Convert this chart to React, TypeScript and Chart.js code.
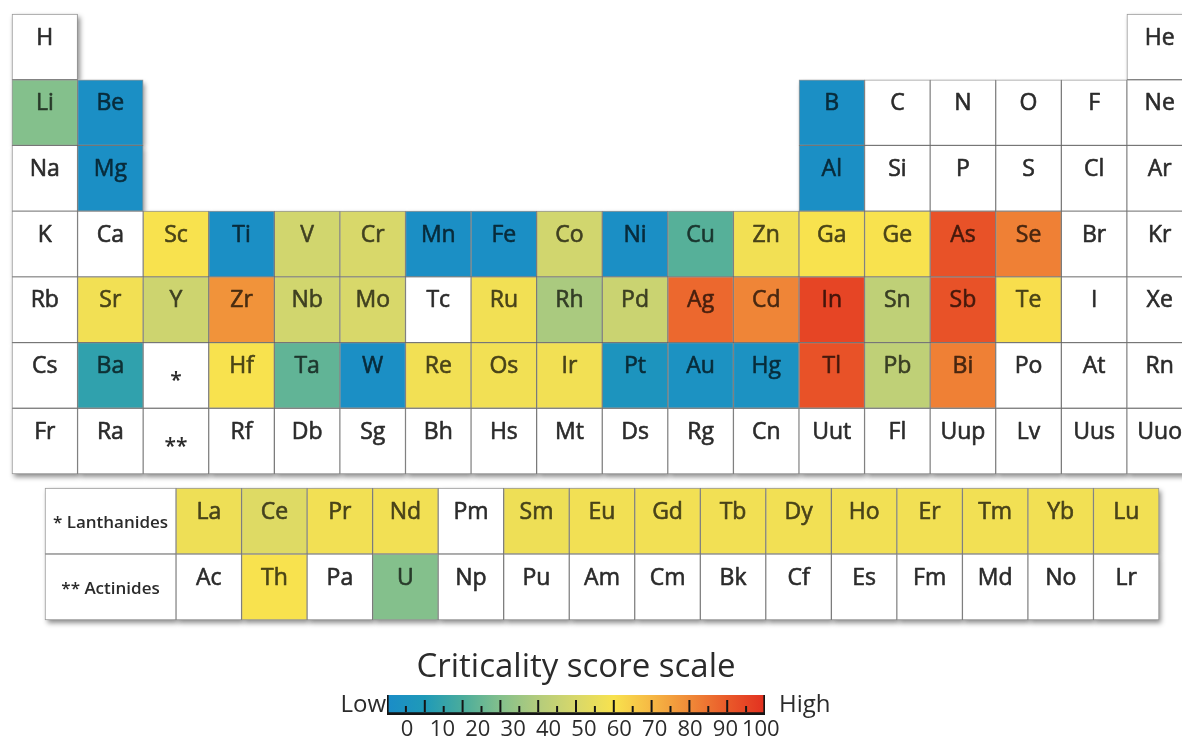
import React, { useEffect, useRef } from "react";
import { Chart, registerables } from "chart.js";

Chart.register(...registerables);
Chart.defaults.font.family = "'Open Sans', Lato, sans-serif";

const _ = null;

// ---- Main table (periods 1-7) ----
const PERIOD_LABELS = ["1", "2", "3", "4", "5", "6", "7"];
const P1_SYMBOLS = ["H", "", "", "", "", "", "", "", "", "", "", "", "", "", "", "", "", "He"];
const P2_SYMBOLS = ["Li", "Be", "", "", "", "", "", "", "", "", "", "", "B", "C", "N", "O", "F", "Ne"];
const P3_SYMBOLS = ["Na", "Mg", "", "", "", "", "", "", "", "", "", "", "Al", "Si", "P", "S", "Cl", "Ar"];
const P4_SYMBOLS = ["K", "Ca", "Sc", "Ti", "V", "Cr", "Mn", "Fe", "Co", "Ni", "Cu", "Zn", "Ga", "Ge", "As", "Se", "Br", "Kr"];
const P5_SYMBOLS = ["Rb", "Sr", "Y", "Zr", "Nb", "Mo", "Tc", "Ru", "Rh", "Pd", "Ag", "Cd", "In", "Sn", "Sb", "Te", "I", "Xe"];
const P6_SYMBOLS = ["Cs", "Ba", "*", "Hf", "Ta", "W", "Re", "Os", "Ir", "Pt", "Au", "Hg", "Tl", "Pb", "Bi", "Po", "At", "Rn"];
const P7_SYMBOLS = ["Fr", "Ra", "**", "Rf", "Db", "Sg", "Bh", "Hs", "Mt", "Ds", "Rg", "Cn", "Uut", "Fl", "Uup", "Lv", "Uus", "Uuo"];

const P1_SCORES = [_, _, _, _, _, _, _, _, _, _, _, _, _, _, _, _, _, _];
const P2_SCORES = [30, 2, _, _, _, _, _, _, _, _, _, _, 2, _, _, _, _, _];
const P3_SCORES = [_, 2, _, _, _, _, _, _, _, _, _, _, 2, _, _, _, _, _];
const P4_SCORES = [_, _, 60, 2, 48, 50, 2, 2, 48, 2, 22, 58, 60, 60, 92, 82, _, _];
const P5_SCORES = [_, 58, 47, 78, 48, 50, _, 58, 38, 46, 87, 81, 95, 43, 92, 61, _, _];
const P6_SCORES = [_, 14, _, 60, 24, 2, 58, 58, 58, 6, 4, 4, 92, 43, 82, _, _, _];
const P7_SCORES = [_, _, _, _, _, _, _, _, _, _, _, _, _, _, _, _, _, _];

// ---- f-block ----
const BLOCK_LABELS = ["* Lanthanides", "** Actinides"];
const LANTHANIDE_SYMBOLS = ["La", "Ce", "Pr", "Nd", "Pm", "Sm", "Eu", "Gd", "Tb", "Dy", "Ho", "Er", "Tm", "Yb", "Lu"];
const ACTINIDE_SYMBOLS = ["Ac", "Th", "Pa", "U", "Np", "Pu", "Am", "Cm", "Bk", "Cf", "Es", "Fm", "Md", "No", "Lr"];
const LANTHANIDE_SCORES = [57, 52, 58, 58, _, 57, 58, 58, 58, 58, 58, 58, 58, 58, 58];
const ACTINIDE_SCORES = [_, 60, _, 30, _, _, _, _, _, _, _, _, _, _, _];

// ---- colour scale ----
const SCALE_TICKS = [0, 10, 20, 30, 40, 50, 60, 70, 80, 90, 100];
const SCALE_COLORS = [
  "#1a8cc8", "#1f9ab8", "#4aac9c", "#84c08c", "#b4cc7c", "#d8d86a",
  "#f8e24e", "#f6b844", "#f08a38", "#ea5a2a", "#e23020",
];

const FONT = "'Open Sans', Lato, sans-serif";

function hexToRgb(h: string): number[] {
  const n = parseInt(h.slice(1), 16);
  return [(n >> 16) & 255, (n >> 8) & 255, n & 255];
}

function scoreRgb(v: number | null): number[] | null {
  if (v === null || v === undefined) return null;
  const lo = SCALE_TICKS[0];
  const hi = SCALE_TICKS[SCALE_TICKS.length - 1];
  const c = Math.max(lo, Math.min(hi, v));
  let i = 0;
  while (i < SCALE_TICKS.length - 2 && c > SCALE_TICKS[i + 1]) i++;
  const t = (c - SCALE_TICKS[i]) / (SCALE_TICKS[i + 1] - SCALE_TICKS[i]);
  const a = hexToRgb(SCALE_COLORS[i]);
  const b = hexToRgb(SCALE_COLORS[i + 1]);
  return [0, 1, 2].map((k) => Math.round(a[k] + (b[k] - a[k]) * t));
}

function scoreColor(v: number | null): string {
  const rgb = scoreRgb(v);
  return rgb ? `rgb(${rgb[0]},${rgb[1]},${rgb[2]})` : "#ffffff";
}

function textColor(v: number | null): string {
  const rgb = scoreRgb(v);
  if (!rgb) return "#2b2b2b";
  const f = 0.3;
  return `rgb(${Math.round(rgb[0] * f)},${Math.round(rgb[1] * f)},${Math.round(rgb[2] * f)})`;
}

type Cell = { x: number[]; y: string; sym: string; score: number | null; header?: boolean };

function buildCells(symRows: string[][], scoreRows: (number | null)[][], rowLabels: string[]): Cell[] {
  const out: Cell[] = [];
  symRows.forEach((row, r) => {
    row.forEach((sym, c) => {
      if (sym === "") return;
      out.push({ x: [c, c + 1], y: rowLabels[r], sym, score: scoreRows[r][c] });
    });
  });
  return out;
}

const cellPlugin = {
  id: "cellText",
  beforeDatasetsDraw(chart: any) {
    const ctx = chart.ctx;
    const meta = chart.getDatasetMeta(0);
    ctx.save();
    ctx.shadowColor = "rgba(0,0,0,0.45)";
    ctx.shadowBlur = 5;
    ctx.shadowOffsetX = 2;
    ctx.shadowOffsetY = 3;
    ctx.fillStyle = "#ffffff";
    meta.data.forEach((el: any) => {
      const p = el.getProps(["x", "y", "base", "height"], true);
      const left = Math.min(p.x, p.base);
      ctx.fillRect(left, p.y - p.height / 2, Math.abs(p.x - p.base), p.height);
    });
    ctx.restore();
  },
  afterDatasetsDraw(chart: any) {
    const ctx = chart.ctx;
    const ds = chart.data.datasets[0];
    const meta = chart.getDatasetMeta(0);
    ctx.save();
    ctx.textAlign = "center";
    ctx.lineJoin = "round";
    meta.data.forEach((el: any, i: number) => {
      const raw = ds.data[i] as Cell;
      const p = el.getProps(["x", "y", "base", "height"], true);
      const cx = (p.x + p.base) / 2;
      const top = p.y - p.height / 2;
      if (raw.header) {
        ctx.font = `600 17px ${FONT}`;
        ctx.fillStyle = "#2b2b2b";
        ctx.textBaseline = "middle";
        ctx.fillText(raw.sym, cx, p.y + 2);
      } else if (raw.sym.startsWith("*")) {
        ctx.font = `600 21px ${FONT}`;
        ctx.fillStyle = "#2b2b2b";
        ctx.textBaseline = "alphabetic";
        ctx.fillText(raw.sym, cx, p.y + 12);
      } else {
        const col = textColor(raw.score);
        ctx.font = `23px ${FONT}`;
        ctx.fillStyle = col;
        ctx.strokeStyle = col;
        ctx.lineWidth = 0.6;
        ctx.textBaseline = "middle";
        ctx.fillText(raw.sym, cx, top + 24);
        ctx.strokeText(raw.sym, cx, top + 24);
      }
    });
    ctx.restore();
  },
};

const scaleMarksPlugin = {
  id: "scaleMarks",
  afterDatasetsDraw(chart: any) {
    const ctx = chart.ctx;
    const xs = chart.scales.x;
    const area = chart.chartArea;
    ctx.save();
    ctx.strokeStyle = "#151515";
    ctx.lineWidth = 2;
    const lineBottom = area.bottom - 3;
    for (let i = 0; i < SCALE_TICKS.length - 1; i++) {
      const a = SCALE_TICKS[i];
      const b = SCALE_TICKS[i + 1];
      const mid = xs.getPixelForValue((a + b) / 2);
      ctx.beginPath();
      ctx.moveTo(mid, lineBottom);
      ctx.lineTo(mid, lineBottom - 6);
      ctx.stroke();
      if (i > 0) {
        const px = xs.getPixelForValue(a);
        ctx.beginPath();
        ctx.moveTo(px, lineBottom);
        ctx.lineTo(px, lineBottom - 12);
        ctx.stroke();
      }
    }
    ctx.fillStyle = "#2b2b2b";
    ctx.font = `24px ${FONT}`;
    ctx.textBaseline = "alphabetic";
    ctx.textAlign = "right";
    ctx.fillText("Low", area.left - 1, area.bottom - 3);
    ctx.textAlign = "left";
    ctx.fillText("High", area.right + 14, area.bottom - 3);
    ctx.restore();
  },
};

function gradientFor(chart: any) {
  const xs = chart.scales.x;
  if (!xs || !chart.chartArea) return "#888";
  const lo = SCALE_TICKS[0];
  const hi = SCALE_TICKS[SCALE_TICKS.length - 1];
  const g = chart.ctx.createLinearGradient(xs.getPixelForValue(lo), 0, xs.getPixelForValue(hi), 0);
  SCALE_TICKS.forEach((v, i) => g.addColorStop((v - lo) / (hi - lo), SCALE_COLORS[i]));
  return g;
}

const baseOptions = {
  indexAxis: "y" as const,
  responsive: false,
  animation: false as const,
  devicePixelRatio: 1,
  events: [] as any[],
};

function cellDataset(data: Cell[]) {
  return {
    data,
    backgroundColor: (c: any) => scoreColor(c.raw ? c.raw.score : null),
    borderColor: "rgba(70,70,70,0.55)",
    borderWidth: 1,
    borderSkipped: false,
    barPercentage: 1,
    categoryPercentage: 1,
    clip: false,
  };
}

function mainConfig(): any {
  const cells = buildCells(
    [P1_SYMBOLS, P2_SYMBOLS, P3_SYMBOLS, P4_SYMBOLS, P5_SYMBOLS, P6_SYMBOLS, P7_SYMBOLS],
    [P1_SCORES, P2_SCORES, P3_SCORES, P4_SCORES, P5_SCORES, P6_SCORES, P7_SCORES],
    PERIOD_LABELS
  );
  return {
    type: "bar",
    data: { datasets: [cellDataset(cells)] },
    options: {
      ...baseOptions,
      layout: { padding: { left: 12, top: 14, right: 0, bottom: 10 } },
      scales: {
        x: { type: "linear", min: 0, max: 17.84, display: false },
        y: { type: "category", labels: PERIOD_LABELS, display: false, offset: true },
      },
      plugins: { legend: { display: false }, tooltip: { enabled: false }, title: { display: false } },
    },
    plugins: [cellPlugin],
  };
}

function fBlockConfig(): any {
  const cells = buildCells([LANTHANIDE_SYMBOLS, ACTINIDE_SYMBOLS], [LANTHANIDE_SCORES, ACTINIDE_SCORES], BLOCK_LABELS);
  const headers: Cell[] = BLOCK_LABELS.map((label) => ({ x: [-2, 0], y: label, sym: label, score: null, header: true }));
  return {
    type: "bar",
    data: { datasets: [cellDataset([...headers, ...cells])] },
    options: {
      ...baseOptions,
      layout: { padding: { left: 45, top: 8, right: 23, bottom: 20 } },
      scales: {
        x: { type: "linear", min: -2, max: 15, display: false },
        y: { type: "category", labels: BLOCK_LABELS, display: false, offset: true },
      },
      plugins: { legend: { display: false }, tooltip: { enabled: false }, title: { display: false } },
    },
    plugins: [cellPlugin],
  };
}

function legendConfig(): any {
  return {
    type: "bar",
    data: {
      datasets: [
        {
          data: [{ x: [SCALE_TICKS[0], SCALE_TICKS[SCALE_TICKS.length - 1]], y: "scale" }],
          backgroundColor: (c: any) => gradientFor(c.chart),
          borderColor: "#151515",
          borderWidth: { left: 2, right: 2, bottom: 3, top: 0 },
          borderSkipped: false,
          barPercentage: 1,
          categoryPercentage: 1,
          xAxisID: "x",
          yAxisID: "y",
        },
      ],
    },
    options: {
      ...baseOptions,
      layout: { padding: { left: 387, right: 417, top: 0, bottom: 0 } },
      scales: {
        x: { type: "linear", min: 0, max: 100, display: false },
        x2: {
          type: "linear",
          position: "bottom",
          min: -5.67,
          max: 101.2,
          grid: { display: false, drawTicks: false },
          border: { display: false },
          ticks: {
            font: { size: 22, lineHeight: 1 },
            color: "#2b2b2b",
            padding: 4,
            autoSkip: false,
            maxRotation: 0,
          },
          afterBuildTicks: (s: any) => {
            s.ticks = SCALE_TICKS.map((v) => ({ value: v }));
          },
        },
        y: { type: "category", labels: ["scale"], display: false, offset: true },
      },
      plugins: {
        legend: { display: false },
        tooltip: { enabled: false },
        title: {
          display: true,
          text: "Criticality score scale",
          color: "#2b2b2b",
          font: { size: 33, weight: "normal", lineHeight: 1.2 },
          padding: { top: 20.2, bottom: 7.2 },
        },
      },
    },
    plugins: [scaleMarksPlugin],
  };
}

function ChartCanvas(props: { build: () => any; left: number; top: number; width: number; height: number }) {
  const ref = useRef<HTMLCanvasElement>(null);
  useEffect(() => {
    const chart = new Chart(ref.current as HTMLCanvasElement, props.build());
    return () => chart.destroy();
  }, []);
  return (
    <canvas
      ref={ref}
      width={props.width}
      height={props.height}
      style={{ position: "absolute", left: props.left, top: props.top, width: props.width, height: props.height }}
    />
  );
}

export default function App() {
  return (
    <div style={{ position: "fixed", left: 0, top: 0, width: 1182, height: 745, background: "#ffffff", overflow: "hidden" }}>
      <ChartCanvas build={mainConfig} left={0} top={0} width={1182} height={484} />
      <ChartCanvas build={fBlockConfig} left={0} top={480} width={1182} height={160} />
      <ChartCanvas build={legendConfig} left={0} top={628} width={1182} height={117} />
    </div>
  );
}
